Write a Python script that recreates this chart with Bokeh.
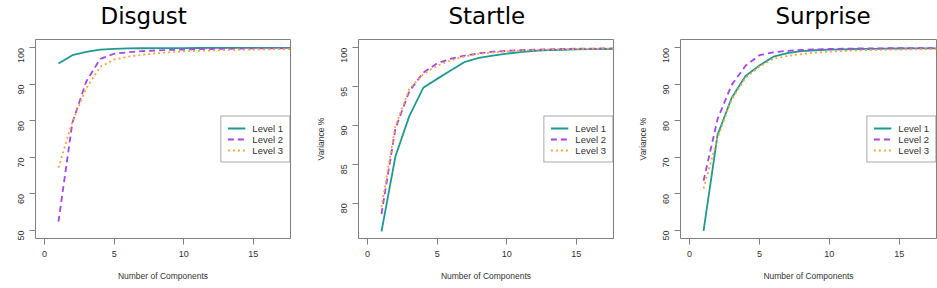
import math
from bokeh.plotting import figure
from bokeh.layouts import row, column
from bokeh.models import Range1d, FixedTicker, Legend, LegendItem
from bokeh.embed import file_html
from bokeh.resources import INLINE

components = list(range(1, 19))
series_names = ["Level 1", "Level 2", "Level 3"]
titles = ["Disgust", "Startle", "Surprise"]

disgust_l1 = [95.7, 98.0, 98.9, 99.5, 99.75, 99.85, 99.9, 99.93, 99.95, 99.96, 99.97, 99.98, 99.98, 99.99, 99.99, 100, 100, 100]
disgust_l2 = [52.4, 79.5, 90.8, 97.0, 98.4, 98.8, 99.1, 99.3, 99.45, 99.55, 99.65, 99.7, 99.75, 99.8, 99.85, 99.88, 99.9, 99.92]
disgust_l3 = [67.2, 79.8, 89.0, 94.8, 96.8, 97.6, 98.1, 98.5, 98.8, 99.05, 99.2, 99.3, 99.4, 99.5, 99.55, 99.6, 99.65, 99.7]

startle_l1 = [76.35, 86.0, 91.2, 94.85, 96.0, 97.1, 98.2, 98.7, 99.0, 99.25, 99.45, 99.6, 99.7, 99.75, 99.8, 99.82, 99.85, 99.87]
startle_l2 = [78.6, 89.6, 94.4, 96.8, 98.0, 98.6, 99.0, 99.3, 99.5, 99.6, 99.7, 99.75, 99.8, 99.85, 99.88, 99.9, 99.92, 99.93]
startle_l3 = [79.5, 89.9, 94.7, 96.6, 97.7, 98.4, 98.9, 99.2, 99.4, 99.55, 99.65, 99.72, 99.78, 99.82, 99.85, 99.87, 99.89, 99.9]

surprise_l1 = [49.9, 76.1, 86.2, 92.3, 95.2, 97.6, 98.6, 99.1, 99.35, 99.5, 99.6, 99.7, 99.75, 99.8, 99.83, 99.86, 99.88, 99.9]
surprise_l2 = [63.6, 80.5, 89.8, 95.1, 98.0, 98.8, 99.2, 99.45, 99.6, 99.7, 99.78, 99.83, 99.87, 99.9, 99.92, 99.94, 99.95, 99.96]
surprise_l3 = [61.5, 75.3, 85.8, 91.8, 94.9, 97.0, 97.8, 98.3, 98.7, 99.0, 99.15, 99.3, 99.4, 99.5, 99.55, 99.6, 99.65, 99.7]

x_ticks = [0, 5, 10, 15]
y_ticks_wide = [50, 60, 70, 80, 90, 100]
y_ticks_narrow = [80, 85, 90, 95, 100]

COLORS = ["#1f9a92", "#a845e6", "#f5a640"]
DASHES = ["solid", "6 4", "2 3"]
TXT = "#333333"
GRID = "#808080"
HEADER_H = 38


def header(title, total_w, title_x):
    h = figure(width=total_w, height=HEADER_H, min_border_left=0, min_border_right=0,
               min_border_top=0, min_border_bottom=0, output_backend="svg",
               toolbar_location=None, x_axis_type=None, y_axis_type=None)
    h.outline_line_color = None
    h.grid.visible = False
    h.background_fill_color = "white"
    h.border_fill_color = "white"
    h.title.text = title
    h.title.align = "left"
    h.title.offset = title_x
    h.title.standoff = 0
    h.title.text_font = "DejaVu Sans"
    h.title.text_font_size = "23px"
    h.title.text_font_style = "normal"
    h.title.text_color = "#000000"
    return h


def panel(series, y_range, y_ticks, ylabel, left, frame_w, right):
    p = figure(frame_width=frame_w, frame_height=199, min_border_left=left,
               min_border_right=right, min_border_top=1, min_border_bottom=50,
               output_backend="svg", toolbar_location=None,
               x_range=Range1d(-0.65, 17.67), y_range=Range1d(*y_range))
    xa = p.below[0]
    ya = p.left[0]
    p.grid.visible = False
    p.outline_line_color = GRID
    p.outline_line_width = 1
    p.background_fill_color = "white"
    p.border_fill_color = "white"
    for ax in (xa, ya):
        ax.axis_line_color = None
        ax.major_tick_line_color = GRID
        ax.major_tick_out = 6
        ax.major_tick_in = 0
        ax.minor_tick_line_color = None
        ax.major_label_text_font = "Liberation Sans"
        ax.major_label_text_font_size = "9px"
        ax.major_label_text_color = TXT
        ax.major_label_standoff = 6
        ax.axis_label_text_font = "Liberation Sans"
        ax.axis_label_text_font_size = "8.5px"
        ax.axis_label_text_font_style = "normal"
        ax.axis_label_text_color = TXT
    xa.ticker = FixedTicker(ticks=x_ticks)
    ya.ticker = FixedTicker(ticks=y_ticks)
    ya.major_label_orientation = math.pi / 2
    ya.major_label_standoff = 8
    xa.axis_label = "Number of Components"
    xa.axis_label_standoff = 11
    if ylabel:
        ya.axis_label = ylabel
        ya.axis_label_standoff = 10
    items = []
    for name, ys, c, d in zip(series_names, series, COLORS, DASHES):
        r = p.line(components, ys, line_color=c, line_width=1.8, line_dash=d)
        items.append(LegendItem(label=name, renderers=[r]))
    leg = Legend(items=items, location="right", margin=0, padding=6,
                 spacing=0, glyph_width=18, glyph_height=11, label_height=11,
                 label_standoff=7, label_text_font="Liberation Sans",
                 label_text_font_size="9.5px", label_text_color=TXT,
                 border_line_color="#555555", border_line_width=1,
                 background_fill_color="white", background_fill_alpha=1)
    p.add_layout(leg, "center")
    return p


p1 = panel([disgust_l1, disgust_l2, disgust_l3], (47.8, 102.3),
           y_ticks_wide, None, 35, 255, 22)
p2 = panel([startle_l1, startle_l2, startle_l3], (75.45, 101.07),
           y_ticks_narrow, "Variance %", 46, 255, 17)
p3 = panel([surprise_l1, surprise_l2, surprise_l3], (47.8, 102.3),
           y_ticks_wide, "Variance %", 50, 256, 1)

h1 = header(titles[0], 312, 100)
h2 = header(titles[1], 318, 136)
h3 = header(titles[2], 307, 145)

layout = column(row(h1, h2, h3, spacing=0), row(p1, p2, p3, spacing=0), spacing=0)
open("out.html", "w").write(file_html(layout, INLINE))
